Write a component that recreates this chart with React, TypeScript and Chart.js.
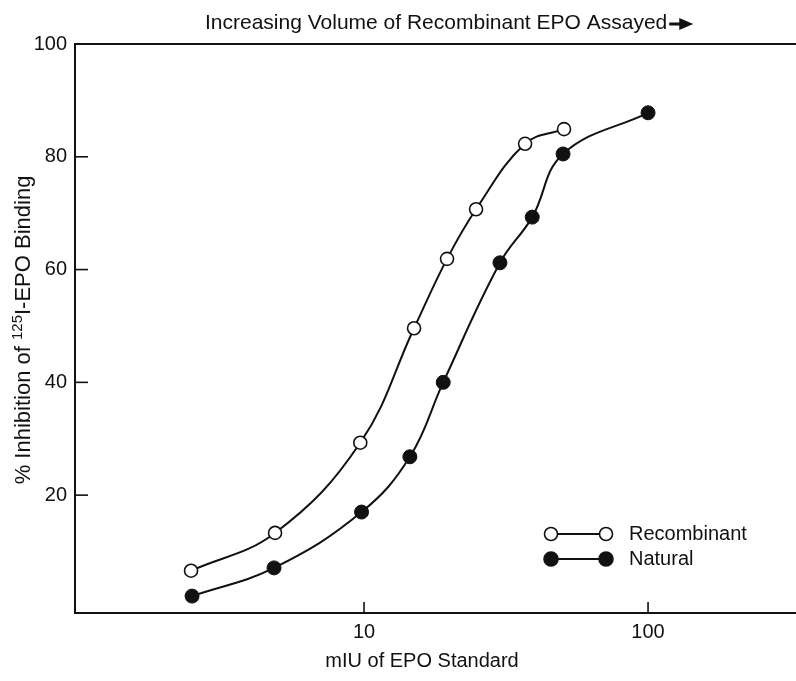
import React, { useEffect, useRef } from "react";
import { Chart, registerables } from "chart.js";

Chart.register(...registerables);

const recombinantX = [2.46, 4.86, 9.7, 15.0, 19.6, 24.8, 36.9, 50.6];
const recombinantY = [6.6, 13.3, 29.3, 49.6, 61.9, 70.7, 82.3, 84.9];
const naturalX = [2.48, 4.82, 9.8, 14.5, 19.0, 30.1, 39.1, 50.2, 100];
const naturalY = [2.1, 7.1, 17.0, 26.8, 40.0, 61.2, 69.3, 80.5, 87.8];
const xTickValues = [10, 100];
const yTickValues = [20, 40, 60, 80, 100];
const seriesNames = ["Recombinant", "Natural"];
const topTitle = "Increasing Volume of Recombinant EPO Assayed";
const xTitle = "mIU of EPO Standard";

const FONT = "'Liberation Sans', Arial, Helvetica, sans-serif";
const INK = "#111";

const customPlugin = {
  id: "customDecor",
  afterDraw(chart: any) {
    const { ctx, chartArea } = chart;
    const { left, right, top, bottom } = chartArea;
    const xs = chart.scales.x;
    const ys = chart.scales.y;
    ctx.save();
    ctx.strokeStyle = INK;
    ctx.fillStyle = INK;
    ctx.lineWidth = 2;
    // top border line
    ctx.beginPath();
    ctx.moveTo(left, top);
    ctx.lineTo(right, top);
    ctx.stroke();
    // inward ticks
    ctx.lineWidth = 1.6;
    yTickValues.forEach((v) => {
      if (v >= 100) return;
      const py = ys.getPixelForValue(v);
      ctx.beginPath();
      ctx.moveTo(left, py);
      ctx.lineTo(left + 13, py);
      ctx.stroke();
    });
    xTickValues.forEach((v) => {
      const px = xs.getPixelForValue(v);
      ctx.beginPath();
      ctx.moveTo(px, bottom);
      ctx.lineTo(px, bottom - 11);
      ctx.stroke();
    });

    // top title
    ctx.font = `21px ${FONT}`;
    ctx.textBaseline = "middle";
    ctx.textAlign = "left";
    const tx = 205;
    const ty = 23;
    ctx.fillText(topTitle, tx, ty);
    const tw = ctx.measureText(topTitle).width;
    const ax = tx + tw + 2;
    ctx.lineWidth = 3;
    ctx.beginPath();
    ctx.moveTo(ax, ty + 1);
    ctx.lineTo(ax + 14, ty + 1);
    ctx.stroke();
    ctx.beginPath();
    ctx.moveTo(ax + 10, ty - 5);
    ctx.lineTo(ax + 24, ty + 1);
    ctx.lineTo(ax + 10, ty + 7);
    ctx.closePath();
    ctx.fill();

    // x title
    ctx.textAlign = "center";
    ctx.font = `20px ${FONT}`;
    ctx.fillText(xTitle, 422, 661);

    // y title with superscript
    ctx.save();
    ctx.translate(22, 330);
    ctx.rotate(-Math.PI / 2);
    const p1 = "% Inhibition of ";
    const sup = "125";
    const p2 = "I-EPO Binding";
    ctx.font = `22px ${FONT}`;
    const w1 = ctx.measureText(p1).width;
    const w3 = ctx.measureText(p2).width;
    ctx.font = `15px ${FONT}`;
    const w2 = ctx.measureText(sup).width;
    const total = w1 + w2 + w3;
    let cx = -total / 2;
    ctx.textAlign = "left";
    ctx.textBaseline = "alphabetic";
    ctx.font = `22px ${FONT}`;
    ctx.fillText(p1, cx, 8);
    cx += w1;
    ctx.font = `15px ${FONT}`;
    ctx.fillText(sup, cx, 0);
    cx += w2;
    ctx.font = `22px ${FONT}`;
    ctx.fillText(p2, cx, 8);
    ctx.restore();

    // legend
    const rows = [
      { y: 534, fill: "#fff", r: 6.5 },
      { y: 559, fill: INK, r: 7 },
    ];
    rows.forEach((r, i) => {
      ctx.lineWidth = 2;
      ctx.strokeStyle = INK;
      ctx.beginPath();
      ctx.moveTo(551, r.y);
      ctx.lineTo(606, r.y);
      ctx.stroke();
      [551, 606].forEach((mx) => {
        ctx.beginPath();
        ctx.arc(mx, r.y, r.r, 0, Math.PI * 2);
        ctx.fillStyle = r.fill;
        ctx.fill();
        ctx.lineWidth = 1.6;
        ctx.stroke();
      });
      ctx.fillStyle = INK;
      ctx.font = `20px ${FONT}`;
      ctx.textAlign = "left";
      ctx.textBaseline = "middle";
      ctx.fillText(seriesNames[i], 629, r.y);
    });
    ctx.restore();
  },
};

export default function App() {
  const canvasRef = useRef<HTMLCanvasElement | null>(null);

  useEffect(() => {
    if (!canvasRef.current) return;
    const chart = new Chart(canvasRef.current, {
      type: "line",
      data: {
        datasets: [
          {
            label: seriesNames[0],
            data: recombinantX.map((x, i) => ({ x, y: recombinantY[i] })),
            borderColor: INK,
            borderWidth: 2,
            backgroundColor: "#fff",
            pointBackgroundColor: "#fff",
            pointBorderColor: INK,
            pointBorderWidth: 1.6,
            pointRadius: 6.5,
            tension: 0.4,
            fill: false,
          },
          {
            label: seriesNames[1],
            data: naturalX.map((x, i) => ({ x, y: naturalY[i] })),
            borderColor: INK,
            borderWidth: 2,
            backgroundColor: INK,
            pointBackgroundColor: INK,
            pointBorderColor: INK,
            pointBorderWidth: 1,
            pointRadius: 7,
            tension: 0.4,
            fill: false,
          },
        ],
      },
      options: {
        responsive: false,
        animation: false,
        events: [],
        layout: { padding: { top: 44, left: 0, right: 0, bottom: 0 } },
        plugins: {
          legend: { display: false },
          tooltip: { enabled: false },
          title: { display: false },
        },
        scales: {
          x: {
            type: "logarithmic",
            min: 0.96,
            max: 337,
            afterBuildTicks: (s: any) => {
              s.ticks = xTickValues.map((v) => ({ value: v }));
            },
            afterFit: (s: any) => {
              s.height = 68;
            },
            grid: { display: true, drawOnChartArea: false, drawTicks: false },
            border: { display: true, color: INK, width: 2 },
            ticks: {
              autoSkip: false,
              maxRotation: 0,
              padding: 7,
              color: INK,
              font: { size: 20, family: FONT },
              callback: (v: any) => String(v),
            },
          },
          y: {
            type: "linear",
            min: -0.9,
            max: 100,
            afterBuildTicks: (s: any) => {
              s.ticks = yTickValues.map((v) => ({ value: v }));
            },
            afterFit: (s: any) => {
              s.width = 75;
            },
            grid: { display: true, drawOnChartArea: false, drawTicks: false },
            border: { display: true, color: INK, width: 2 },
            ticks: {
              padding: 8,
              color: INK,
              font: { size: 20, family: FONT },
              callback: (v: any) => String(v),
            },
          },
        },
      },
      plugins: [customPlugin],
    });
    return () => chart.destroy();
  }, []);

  return (
    <div style={{ position: "absolute", left: 0, top: 0, width: 796, height: 681, overflow: "hidden", background: "#fff" }}>
      <canvas ref={canvasRef} width={806} height={681} style={{ display: "block" }} />
    </div>
  );
}
